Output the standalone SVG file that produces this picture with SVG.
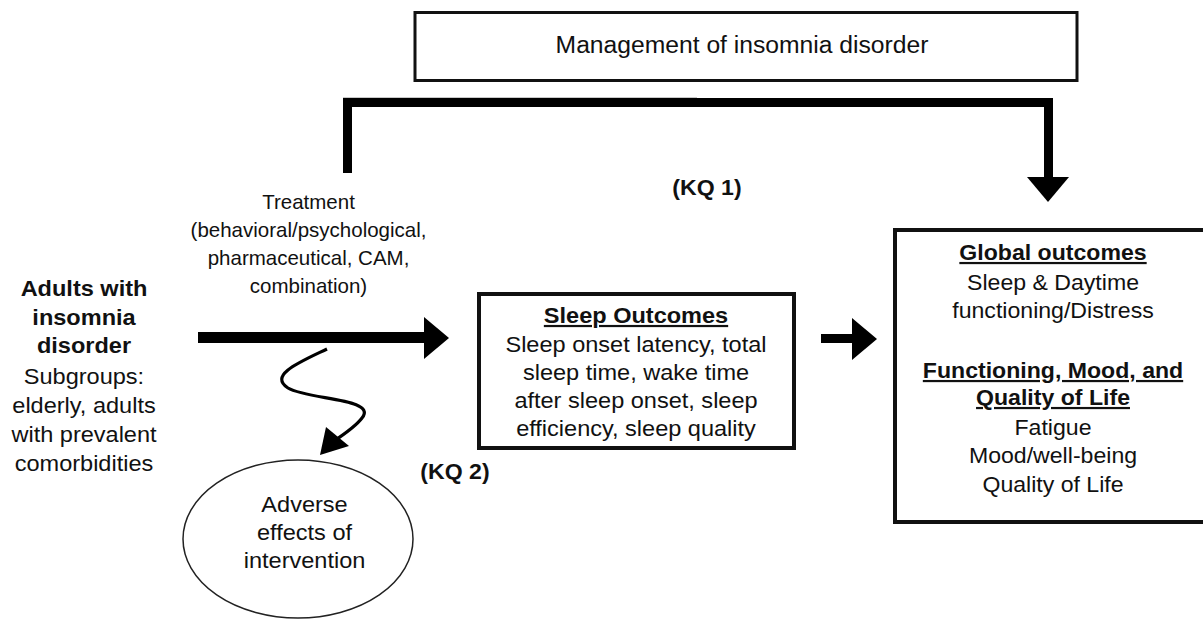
<svg xmlns="http://www.w3.org/2000/svg" width="1203" height="621" viewBox="0 0 1203 621">
<style>
text{font-family:"Liberation Sans",Arial,sans-serif;font-size:22px;fill:#111;text-anchor:middle}
.b{font-weight:bold}
.u{text-decoration:underline}
.t{font-size:20px}
.box{fill:#fff;stroke:#111}
</style>
<rect width="1203" height="621" fill="#fff"/>
<g id="connectors" fill="#000" stroke="none">
  <line x1="343" y1="97.5" x2="697" y2="97.5" stroke="#c8c8c8" stroke-width="1"/>
  <path d="M343,98 H1053 V180 H1044 V107 H352 V173 H343 Z"/>
  <polygon points="1027,177 1069,177 1048,202"/>
  <rect x="198" y="332" width="230" height="11"/>
  <polygon points="424,317 449,338 424,359"/>
  <path d="M327,349 C300,362 268,375 288,388 C308,400 378,398 362,418 C356,426 346,433 334,441" fill="none" stroke="#000" stroke-width="3.2"/>
  <polygon points="320,455 326,427 349,446"/>
  <rect x="821" y="334" width="34" height="9"/>
  <polygon points="852,318 877,339 852,360"/>
</g>
<g id="management">
  <rect class="box" x="415" y="12.5" width="662" height="68" stroke-width="3"/>
  <g transform="translate(742,0) scale(1.05,1)"><text x="0" y="53" style="font-size:23.5px">Management of insomnia disorder</text></g>
</g>
<g id="kq1"><g transform="translate(707,0) scale(1.05,1)"><text class="b" x="0" y="195">(KQ 1)</text></g></g>
<g id="kq2"><g transform="translate(455,0) scale(1.05,1)"><text class="b" x="0" y="479">(KQ 2)</text></g></g>
<g id="treatment">
  <g transform="translate(308.5,0) scale(1.025,1)">
    <text class="t" x="0" y="209">Treatment</text>
    <text class="t" x="0" y="237">(behavioral/psychological,</text>
    <text class="t" x="0" y="265">pharmaceutical, CAM,</text>
    <text class="t" x="0" y="293">combination)</text>
  </g>
</g>
<g id="adults">
  <g transform="translate(84,0) scale(1.07,1)">
    <text class="b" x="0" y="296">Adults with</text>
    <text class="b" x="0" y="325">insomnia</text>
    <text class="b" x="0" y="353">disorder</text>
    <text x="0" y="384">Subgroups:</text>
    <text x="0" y="413">elderly, adults</text>
    <text x="0" y="442">with prevalent</text>
    <text x="0" y="471">comorbidities</text>
  </g>
</g>
<g id="sleep-outcomes">
  <rect class="box" x="479" y="294" width="315" height="154" stroke-width="4"/>
  <g transform="translate(636,0) scale(1.07,1)">
    <text class="b u" x="0" y="323">Sleep Outcomes</text>
    <text x="0" y="352">Sleep onset latency, total</text>
    <text x="0" y="380">sleep time, wake time</text>
    <text x="0" y="408">after sleep onset, sleep</text>
    <text x="0" y="436">efficiency, sleep quality</text>
  </g>
</g>
<g id="global-outcomes">
  <rect class="box" x="895" y="230" width="340" height="292" stroke-width="4"/>
  <g transform="translate(1053,0) scale(1.05,1)">
    <text class="b u" x="0" y="260">Global outcomes</text>
    <text x="0" y="290">Sleep &amp; Daytime</text>
    <text x="0" y="318">functioning/Distress</text>
    <text class="b u" x="0" y="378">Functioning, Mood, and</text>
    <text class="b u" x="0" y="405">Quality of Life</text>
    <text x="0" y="435">Fatigue</text>
    <text x="0" y="463">Mood/well-being</text>
    <text x="0" y="492">Quality of Life</text>
  </g>
</g>
<g id="adverse">
  <ellipse cx="298" cy="539" rx="115" ry="79" fill="#fff" stroke="#222" stroke-width="1.5"/>
  <g transform="translate(304.5,0) scale(1.07,1)">
    <text x="0" y="512">Adverse</text>
    <text x="0" y="540">effects of</text>
    <text x="0" y="568">intervention</text>
  </g>
</g>
</svg>
